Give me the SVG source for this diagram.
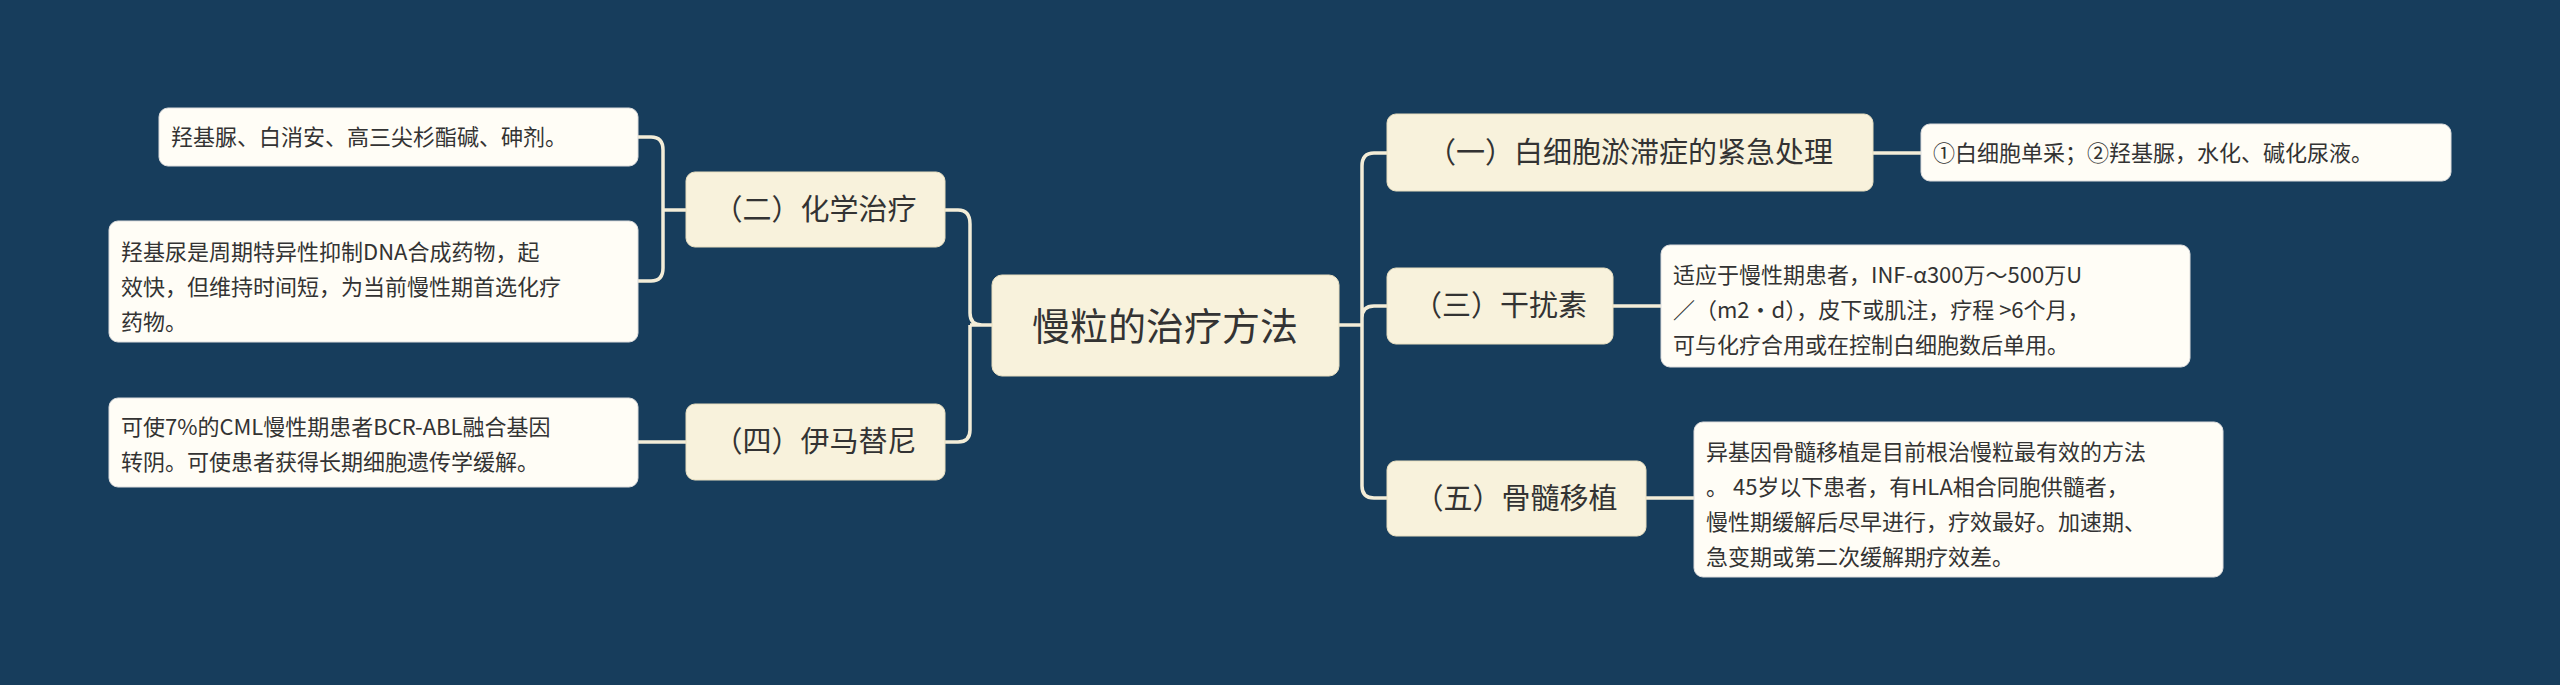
<svg xmlns="http://www.w3.org/2000/svg" width="2560" height="685" viewBox="0 0 2560 685">
<style>
text{font-family:"Noto Sans CJK SC","Noto Sans",sans-serif;fill:#333}
.m{fill:#f8f2dc;stroke:#e8dfc0;stroke-width:1}
.l{fill:#fffdf6;stroke:#ddd;stroke-width:1}
.c path{fill:none;stroke:#f3edd8;stroke-width:3.5}
.t1{font-size:29px}
.t2{font-size:22px}
</style>
<rect width="2560" height="685" fill="#173d5c"/>
<g class="c">
<path d="M1339 325 H970 M992 325 H982 Q970 325 970 313 V224 Q970 210 958 210 H945 M970 325 V430 Q970 442 958 442 H945"/>
<path d="M686 210 H663 M663 210 V150 Q663 137 651 137 H638 M663 210 V268 Q663 281 651 281 H638"/>
<path d="M686 442 H638"/>
<path d="M1339 325 H1362 M1362 325 V166 Q1362 153 1374 153 H1387 M1362 325 V318 Q1362 306 1374 306 H1387 M1362 325 V486 Q1362 498 1374 498 H1387"/>
<path d="M1873 153 H1921 M1613 306 H1661 M1646 498 H1694"/>
</g>
<g id="center"><rect class="m" x="992" y="275" width="347" height="101" rx="10"/><text x="1165" y="340" font-size="38" text-anchor="middle">慢粒的治疗方法</text></g>
<g id="n2"><rect class="m" x="686" y="172" width="259" height="75" rx="9"/><text class="t1" x="815" y="220" text-anchor="middle">（二）化学治疗</text></g>
<g id="n4"><rect class="m" x="686" y="404" width="259" height="76" rx="9"/><text class="t1" x="815" y="452" text-anchor="middle">（四）伊马替尼</text></g>
<g id="n1"><rect class="m" x="1387" y="114" width="486" height="77" rx="9"/><text class="t1" x="1630" y="163" text-anchor="middle">（一）白细胞淤滞症的紧急处理</text></g>
<g id="n3"><rect class="m" x="1387" y="268" width="226" height="76" rx="9"/><text class="t1" x="1500" y="316" text-anchor="middle">（三）干扰素</text></g>
<g id="n5"><rect class="m" x="1387" y="461" width="259" height="75" rx="9"/><text class="t1" x="1516" y="509" text-anchor="middle">（五）骨髓移植</text></g>
<g id="l2a"><rect class="l" x="159" y="108" width="479" height="58" rx="9"/><text class="t2" x="171" y="145">羟基脲、白消安、高三尖杉酯碱、砷剂。</text></g>
<g id="l2b"><rect class="l" x="109" y="221" width="529" height="121" rx="9"/><text class="t2" x="121" y="260">羟基尿是周期特异性抑制DNA合成药物，起</text><text class="t2" x="121" y="295">效快，但维持时间短，为当前慢性期首选化疗</text><text class="t2" x="121" y="330">药物。</text></g>
<g id="l4"><rect class="l" x="109" y="398" width="529" height="89" rx="9"/><text class="t2" x="121" y="435">可使7%的CML慢性期患者BCR-ABL融合基因</text><text class="t2" x="121" y="470">转阴。可使患者获得长期细胞遗传学缓解。</text></g>
<g id="l1"><rect class="l" x="1921" y="124" width="530" height="57" rx="9"/><text class="t2" x="1933" y="161">①白细胞单采；②羟基脲，水化、碱化尿液。</text></g>
<g id="l3"><rect class="l" x="1661" y="245" width="529" height="122" rx="9"/><text class="t2" x="1673" y="283">适应于慢性期患者，INF-α300万～500万U</text><text class="t2" x="1673" y="318">／（m2·d），皮下或肌注，疗程 &gt;6个月，</text><text class="t2" x="1673" y="353">可与化疗合用或在控制白细胞数后单用。</text></g>
<g id="l5"><rect class="l" x="1694" y="422" width="529" height="155" rx="9"/><text class="t2" x="1706" y="460">异基因骨髓移植是目前根治慢粒最有效的方法</text><text class="t2" x="1706" y="495">。 45岁以下患者，有HLA相合同胞供髓者，</text><text class="t2" x="1706" y="530">慢性期缓解后尽早进行，疗效最好。加速期、</text><text class="t2" x="1706" y="565">急变期或第二次缓解期疗效差。</text></g>
</svg>
